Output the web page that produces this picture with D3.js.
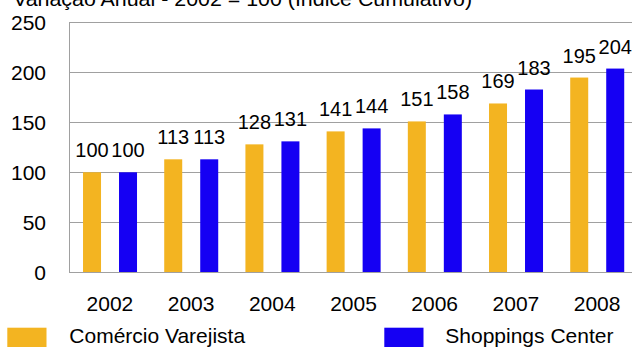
<!DOCTYPE html>
<html>
<head>
<meta charset="utf-8">
<script src="https://cdn.jsdelivr.net/npm/d3@7"></script>
<style>
  html, body { margin: 0; padding: 0; background: #fff; }
  svg { display: block; font-family: "Liberation Sans", Arial, sans-serif; }
</style>
</head>
<body>
<svg id="chart" width="632" height="347"></svg>
<script>
// Annual variation, 2002 = 100 (cumulative index)
const years = ["2002", "2003", "2004", "2005", "2006", "2007", "2008"];
const seriesNames = ["Comércio Varejista", "Shoppings Center"];
const varejista = [100, 113, 128, 141, 151, 169, 195];
const shoppings = [100, 113, 131, 144, 158, 183, 204];
const yTicks = [0, 50, 100, 150, 200, 250];
const colors = ["#F3B421", "#1500F3"];
const title = "Variação Anual - 2002 = 100 (Índice Cumulativo)";

const svg = d3.select("#chart");

const plot = { left: 69.3, right: 637.7, top: 22.7, bottom: 272 };

const x0 = d3.scaleBand().domain(years).range([plot.left, plot.right]).padding(0);
const x1 = d3.scaleBand().domain(seriesNames)
  .range([x0.bandwidth() * 0.169, x0.bandwidth() * 0.834])
  .paddingInner(0.5).paddingOuter(0);
const y = d3.scaleLinear().domain([0, 250]).range([plot.bottom, plot.top]);

const rows = years.map((yr, i) => ({ year: yr, values: [varejista[i], shoppings[i]] }));

// title (partially above the visible area)
svg.append("text")
  .attr("x", 13).attr("y", 6)
  .attr("font-size", 21)
  .attr("textLength", 459).attr("lengthAdjust", "spacingAndGlyphs")
  .attr("fill", "#000")
  .text(title);

// gridlines
svg.append("g")
  .selectAll("line")
  .data(yTicks.filter(t => t > 0))
  .join("line")
  .attr("x1", plot.left).attr("x2", 640)
  .attr("y1", d => y(d)).attr("y2", d => y(d))
  .attr("stroke", "#a0a0a0").attr("stroke-width", 1)
  .attr("shape-rendering", "crispEdges");

// axis lines
svg.append("line")
  .attr("x1", plot.left).attr("x2", plot.left)
  .attr("y1", plot.top).attr("y2", plot.bottom)
  .attr("stroke", "#a0a0a0").attr("shape-rendering", "crispEdges");
svg.append("line")
  .attr("x1", plot.left).attr("x2", 640)
  .attr("y1", plot.bottom).attr("y2", plot.bottom)
  .attr("stroke", "#a0a0a0").attr("shape-rendering", "crispEdges");

// y tick labels
svg.append("g")
  .selectAll("text")
  .data(yTicks)
  .join("text")
  .attr("x", 46).attr("y", d => y(d))
  .attr("dy", "0.36em")
  .attr("text-anchor", "end")
  .attr("font-size", 21)
  .text(d => d);

// bars
const groups = svg.append("g")
  .selectAll("g")
  .data(rows)
  .join("g")
  .attr("transform", d => `translate(${x0(d.year)},0)`);

groups.selectAll("rect")
  .data(d => d.values.map((v, k) => ({ name: seriesNames[k], value: v, k })))
  .join("rect")
  .attr("x", d => x1(d.name))
  .attr("width", x1.bandwidth())
  .attr("y", d => y(d.value))
  .attr("height", d => y(0) - y(d.value))
  .attr("fill", d => colors[d.k]);

// value labels
groups.selectAll("text")
  .data(d => d.values.map((v, k) => ({ name: seriesNames[k], value: v, k })))
  .join("text")
  .attr("x", d => x1(d.name) + x1.bandwidth() / 2)
  .attr("y", d => y(d.value) - 15)
  .attr("text-anchor", "middle")
  .attr("font-size", 20)
  .text(d => d.value);

// category labels
svg.append("g")
  .selectAll("text")
  .data(years)
  .join("text")
  .attr("x", d => x0(d) + x0.bandwidth() / 2)
  .attr("y", 311)
  .attr("text-anchor", "middle")
  .attr("font-size", 21)
  .text(d => d);

// legend
const legendPos = [{ sx: 7.3, tx: 69.3 }, { sx: 384.3, tx: 445.3 }];
const legend = svg.append("g")
  .selectAll("g")
  .data(seriesNames)
  .join("g");
legend.append("rect")
  .attr("x", (d, i) => legendPos[i].sx).attr("y", 327.7)
  .attr("width", 39.2).attr("height", 19.3)
  .attr("fill", (d, i) => colors[i]);
legend.append("text")
  .attr("x", (d, i) => legendPos[i].tx).attr("y", 342.5)
  .attr("font-size", 21)
  .text(d => d);
</script>
</body>
</html>
